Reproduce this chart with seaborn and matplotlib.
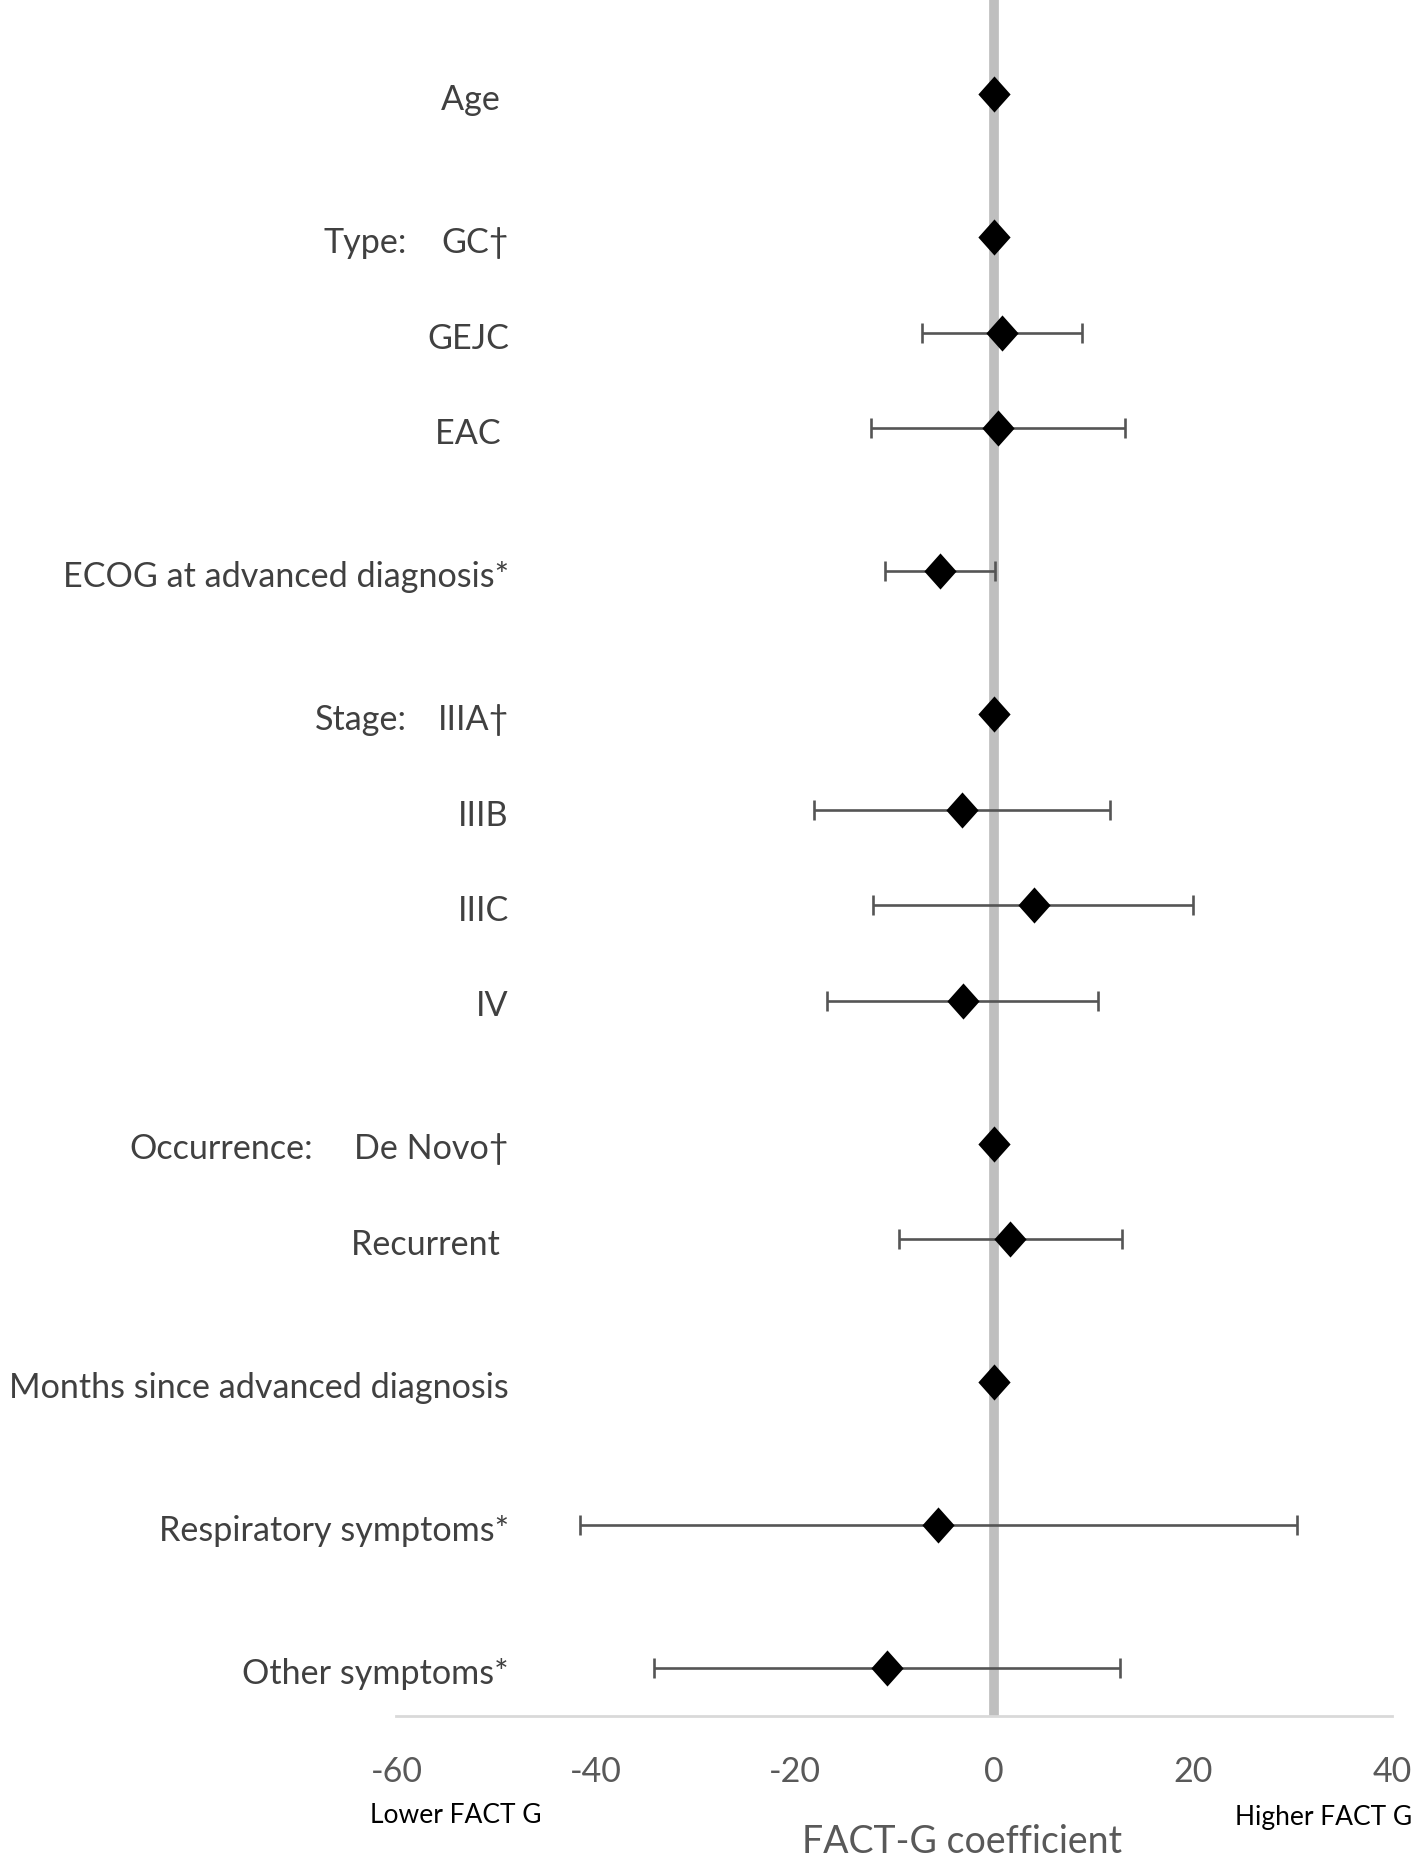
import matplotlib
matplotlib.use("Agg")
import matplotlib.pyplot as plt
import numpy as np
import pandas as pd
import seaborn as sns

# rows, top to bottom (y position in row units)
labels = ["Age ", "GC\u2020", "GEJC", "EAC ", "ECOG at advanced diagnosis*", "IIIA\u2020", "IIIB",
          "IIIC", "IV", "De Novo\u2020", "Recurrent ", "Months since advanced diagnosis",
          "Respiratory symptoms*", "Other symptoms*"]
rows = [0, 1.5, 2.5, 3.5, 5, 6.5, 7.5, 8.5, 9.5, 11, 12, 13.5, 15, 16.5]
coef = [0, 0, 0.8, 0.4, -5.4, 0, -3.2, 4.0, -3.1, 0, 1.6, 0, -5.6, -10.7]
lower = [np.nan, np.nan, -7.2, -12.3, -10.9, np.nan, -18.1, -12.1, -16.8, np.nan, -9.5, np.nan, -41.6, -34.1]
upper = [np.nan, np.nan, 8.9, 13.2, 0.1, np.nan, 11.7, 20.0, 10.5, np.nan, 12.9, np.nan, 30.5, 12.7]

group_labels = ["Type:", "Stage:", "Occurrence:"]
group_rows = [1.5, 6.5, 11]
group_x = [-59.0, -59.0, -68.4]

df = pd.DataFrame({'label': labels, 'row': rows, 'coef': coef, 'lower': lower, 'upper': upper})

sns.set_style("white")
plt.rcParams['font.family'] = ['Lato', 'DejaVu Sans']
plt.rcParams['axes.unicode_minus'] = False

fig = plt.figure(figsize=(14.16, 18.58), dpi=100)
ax = fig.add_axes([0.280, 0.0759, 0.703, 0.9241])

ax.axvline(0, color='#bfbfbf', lw=7, zorder=1)

ci = df.dropna()
ax.errorbar(ci['coef'], ci['row'], xerr=[ci['coef'] - ci['lower'], ci['upper'] - ci['coef']],
            fmt='none', ecolor='#555555', elinewidth=1.9, capsize=7, capthick=1.9, zorder=2)

diamond = [(0, 1.12), (1, 0), (0, -1.12), (-1, 0)]
sns.scatterplot(data=df, x='coef', y='row', marker=diamond, s=26 ** 2, color='black',
                edgecolor='black', linewidth=0, ax=ax, zorder=3)

for lab, r in zip(df['label'], df['row']):
    ax.text(-48.7, r + 0.05, lab, ha='right', va='center', fontsize=24.6, color='#404040', clip_on=False)
for lab, r, gx in zip(group_labels, group_rows, group_x):
    ax.text(gx, r + 0.05, lab, ha='right', va='center', fontsize=24.6, color='#404040', clip_on=False)

ax.set_xlim(-60, 40)
ax.set_ylim(17, -1)
ax.set_xticks([-60, -40, -20, 0, 20, 40])
ax.set_yticks([])
ax.tick_params(axis='x', length=0, pad=28, labelsize=24.5, labelcolor='#595959')
for s in ['top', 'right', 'left']:
    ax.spines[s].set_visible(False)
ax.spines['bottom'].set_color('#d9d9d9')
ax.spines['bottom'].set_linewidth(2)
ax.set_xlabel('')
ax.set_ylabel('')

fig.text(370 / 1416, 1 - 1816 / 1858, 'Lower FACT G', ha='left', va='center', fontsize=19, color='black')
fig.text(1412 / 1416, 1 - 1818 / 1858, 'Higher FACT G', ha='right', va='center', fontsize=19, color='black')
fig.text(962 / 1416, 1 - 1842 / 1858, 'FACT-G coefficient', ha='center', va='center', fontsize=27, color='#595959')

fig.savefig('out.png', dpi=100)
